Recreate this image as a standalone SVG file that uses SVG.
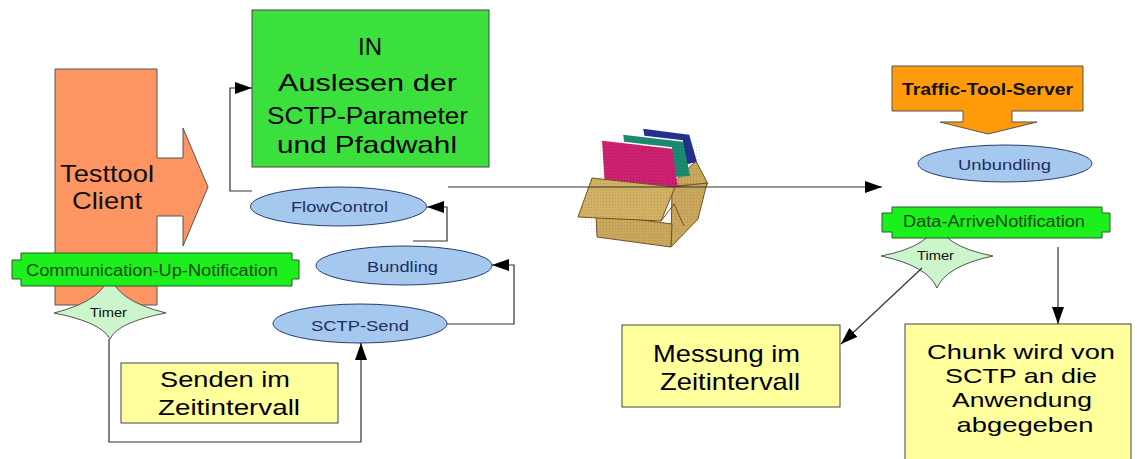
<svg xmlns="http://www.w3.org/2000/svg" width="1137" height="459" viewBox="0 0 1137 459">
  <defs>
    <marker id="arrow" markerUnits="userSpaceOnUse" markerWidth="18" markerHeight="12" refX="17" refY="6" orient="auto">
      <path d="M0,0 L17,6 L0,12 Z" fill="#000"/>
    </marker>
    <pattern id="weave" width="3" height="3" patternUnits="userSpaceOnUse">
      <rect width="3" height="3" fill="none"/>
      <rect width="1" height="1" fill="#000" opacity="0.12"/>
    </pattern>
  </defs>
  <style>
    text { font-family: "Liberation Sans", Arial, sans-serif; }
    .edge { fill: none; stroke: #333; stroke-width: 1.2; }
    .arr { marker-end: url(#arrow); }
    .oval { fill: #a4c8ee; stroke: #2c3c6c; stroke-width: 1; }
    .ovaltxt { font-size: 15px; fill: #1f2f60; text-anchor: middle; }
    .banner { fill: #1cf01c; stroke: #2a5a2a; stroke-width: 1; }
    .bantxt { font-size: 16px; fill: #0b4a0b; text-anchor: middle; }
    .note { fill: #ffff9c; stroke: #444; stroke-width: 1; }
    .notetxt { fill: #000; text-anchor: middle; }
    .timer { fill: #ccf5cc; stroke: #555; stroke-width: 1; }
    .timertxt { font-size: 12px; fill: #111; text-anchor: middle; }
  </style>

  <rect width="1137" height="459" fill="#fff"/>

  <!-- client: block arrow pointing right -->
  <g id="testtool-client">
    <polygon points="55,69 157,69 157,158 183,158 183,128 208,187 183,246 183,216 157,216 157,305 55,305" fill="#fd9563" stroke="#555" stroke-width="1"/>
    <text x="107" y="182" font-size="24" text-anchor="middle" fill="#111" textLength="94" lengthAdjust="spacingAndGlyphs">Testtool</text>
    <text x="107" y="209" font-size="24" text-anchor="middle" fill="#111" textLength="70" lengthAdjust="spacingAndGlyphs">Client</text>
  </g>

  <!-- timer under the client -->
  <g id="timer-left">
    <path class="timer" d="M110,272 Q113,300 166,313 Q118,322 110,339 Q101,322 54,313 Q106,300 110,272 Z"/>
    <text class="timertxt" x="108.5" y="317" textLength="37" lengthAdjust="spacingAndGlyphs">Timer</text>
  </g>

  <g id="communication-up-notification">
    <path class="banner" d="M21,253 H292 V260 H299 V279 H292 V286 H21 V279 H12 V260 H21 Z"/>
    <text class="bantxt" x="152" y="276" font-size="17" textLength="252" lengthAdjust="spacingAndGlyphs">Communication-Up-Notification</text>
  </g>

  <g id="in-box">
    <rect x="252" y="10" width="237" height="157" fill="#3ce03c" stroke="#444" stroke-width="1"/>
    <text class="notetxt" x="370" y="55" font-size="24">IN</text>
    <text class="notetxt" x="367.5" y="91" font-size="24" textLength="179" lengthAdjust="spacingAndGlyphs">Auslesen der</text>
    <text class="notetxt" x="367.5" y="124" font-size="24" textLength="201" lengthAdjust="spacingAndGlyphs">SCTP-Parameter</text>
    <text class="notetxt" x="367" y="153" font-size="24" textLength="180" lengthAdjust="spacingAndGlyphs">und Pfadwahl</text>
  </g>

  <g id="flowcontrol">
    <ellipse class="oval" cx="338.5" cy="206.5" rx="88" ry="19.5"/>
    <text class="ovaltxt" x="339.5" y="212" textLength="97" lengthAdjust="spacingAndGlyphs">FlowControl</text>
  </g>

  <g id="bundling">
    <ellipse class="oval" cx="404" cy="265.5" rx="88" ry="19.5"/>
    <text class="ovaltxt" x="402.5" y="272" textLength="71" lengthAdjust="spacingAndGlyphs">Bundling</text>
  </g>

  <g id="sctp-send">
    <ellipse class="oval" cx="360" cy="323.5" rx="87" ry="19.5"/>
    <text class="ovaltxt" x="360" y="331" textLength="98" lengthAdjust="spacingAndGlyphs">SCTP-Send</text>
  </g>

  <g id="senden-box">
    <rect class="note" x="121" y="363" width="217" height="60"/>
    <text class="notetxt" x="225" y="387" font-size="22" textLength="130" lengthAdjust="spacingAndGlyphs">Senden im</text>
    <text class="notetxt" x="229" y="415" font-size="22" textLength="142" lengthAdjust="spacingAndGlyphs">Zeitintervall</text>
  </g>

  <!-- bundle: books in a cardboard box -->
  <g id="bundle">
    <polygon points="670,186 696,161 708,184" fill="#c9a85e" stroke="#6e5420" stroke-width="1"/>
    <polygon points="643,128 689,134 697,162 651,172" fill="#23308e"/>
    <polyline points="643,128 689,134" fill="none" stroke="#fff" stroke-width="1.5"/>
    <polygon points="623,134 683,141 690,176 630,180" fill="#1c8a70"/>
    <polyline points="623,134 683,141" fill="none" stroke="#fff" stroke-width="1.5"/>
    <polygon points="602,140 672,148 678,188 605,188" fill="#cc2070"/>
    <polyline points="602,140 672,148" fill="none" stroke="#fff" stroke-width="1.5"/>
    <rect x="600" y="140" width="100" height="50" fill="url(#weave)"/>
    <polygon points="672,187 707,183 698,219 671,247" fill="#c9a85e" stroke="#6e5420" stroke-width="1"/>
    <polygon points="596,214 672,224 671,247 597,237" fill="#c9a85e" stroke="#6e5420" stroke-width="1"/>
    <polygon points="578,217 592,178 675,187 661,221" fill="#d2b064" stroke="#6e5420" stroke-width="1"/>
    <polyline points="661,221 674,204 684,226" fill="none" stroke="#6e5420" stroke-width="1"/>
    <polygon points="578,217 592,178 707,183 698,219 671,247 597,237" fill="url(#weave)"/>
  </g>

  <g id="traffic-tool-server">
    <path d="M892,66 H1083 V111 H1012 V122 H1037 L988,134 L940,122 H963 V111 H892 Z" fill="#ff9a0a" stroke="#555" stroke-width="1"/>
    <text x="987.5" y="95" font-size="17" font-weight="bold" text-anchor="middle" fill="#111" textLength="171" lengthAdjust="spacingAndGlyphs">Traffic-Tool-Server</text>
  </g>

  <g id="unbundling">
    <ellipse class="oval" cx="1005" cy="163.5" rx="87" ry="18.5"/>
    <text class="ovaltxt" x="1004.5" y="170" textLength="93" lengthAdjust="spacingAndGlyphs">Unbundling</text>
  </g>

  <!-- timer under the arrive notification -->
  <g id="timer-right">
    <path class="timer" d="M937,220 Q941,246 993,256 Q946,266 937,288 Q928,266 881,256 Q933,246 937,220 Z"/>
    <text class="timertxt" x="935.5" y="260" textLength="37" lengthAdjust="spacingAndGlyphs">Timer</text>
  </g>

  <g id="data-arrive-notification">
    <path class="banner" d="M892,207 H1102 V213 H1110 V232 H1102 V238 H892 V232 H882 V213 H892 Z"/>
    <text class="bantxt" x="994" y="227" textLength="182" lengthAdjust="spacingAndGlyphs">Data-ArriveNotification</text>
  </g>

  <g id="messung-box">
    <rect class="note" x="622" y="325" width="218" height="82"/>
    <text class="notetxt" x="726.5" y="362" font-size="24" textLength="147" lengthAdjust="spacingAndGlyphs">Messung im</text>
    <text class="notetxt" x="730" y="390" font-size="24" textLength="140" lengthAdjust="spacingAndGlyphs">Zeitintervall</text>
  </g>

  <g id="chunk-box">
    <rect class="note" x="905" y="324" width="226" height="150"/>
    <text class="notetxt" x="1021" y="359" font-size="21" textLength="188" lengthAdjust="spacingAndGlyphs">Chunk wird von</text>
    <text class="notetxt" x="1021" y="383" font-size="21" textLength="152" lengthAdjust="spacingAndGlyphs">SCTP an die</text>
    <text class="notetxt" x="1022" y="407" font-size="21" textLength="140" lengthAdjust="spacingAndGlyphs">Anwendung</text>
    <text class="notetxt" x="1025" y="432" font-size="21" textLength="137" lengthAdjust="spacingAndGlyphs">abgegeben</text>
  </g>

  <g id="connectors">
    <path class="edge arr" d="M252,191 H230 V88 H252"/>
    <path class="edge arr" d="M413,241 H447 V207 H427"/>
    <path class="edge arr" d="M447,324 H514 V265 H492"/>
    <path class="edge arr" d="M109,339 V442 H361 V343"/>
    <path class="edge arr" d="M448,187 H882"/>
    <path class="edge arr" d="M1058,247 V324"/>
    <path class="edge arr" d="M922,268 L841,344"/>
  </g>
</svg>
